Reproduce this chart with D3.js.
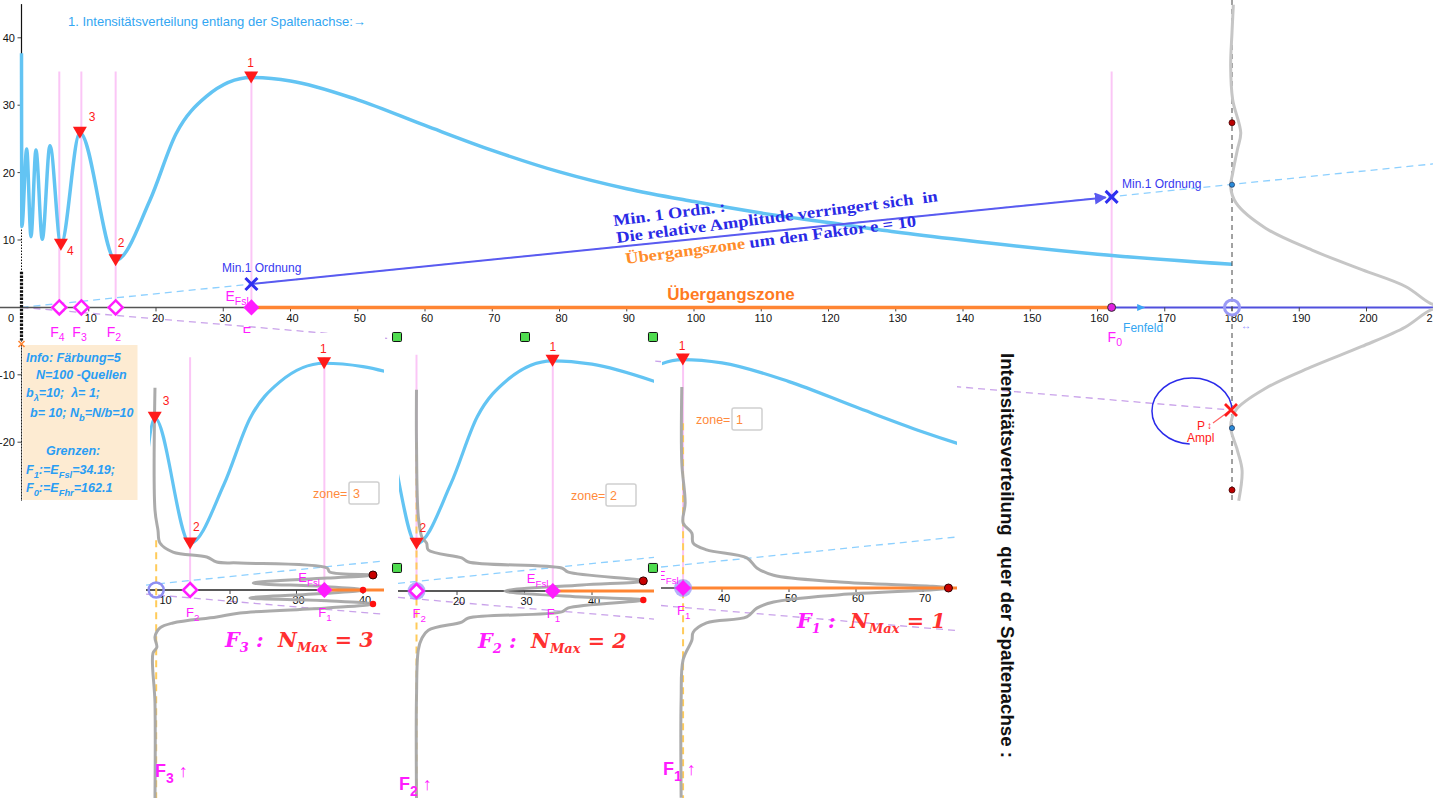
<!DOCTYPE html>
<html><head><meta charset="utf-8">
<script src="https://cdn.jsdelivr.net/npm/d3@7/dist/d3.min.js"></script>
<style>
html,body{margin:0;padding:0;background:#fff;overflow:hidden}
svg{display:block}
</style></head><body>
<svg id="chart" width="1433" height="798" font-family="'Liberation Sans',Arial,sans-serif"></svg>
<script>
// ---------------- data ----------------
// intensity along the slit axis (main curve)
const axialX=[0,0.05,0.77,1.41,2.15,3.09,4.23,5.86,8.68,14.0,19.1,23.0,27.5,34.15,40,50,60,70,80,90,100,110,120,130,140,160,180];
const axialY=[37.7,12,23.5,10.5,23.35,10.1,24.0,9.3,25.9,7.0,15.9,25.8,31.3,34.1,33.6,30.8,27.0,23.3,20.1,17.6,15.7,14.0,12.6,11.2,10.0,7.9,6.4];
// extrema markers
const extremaX=[34.15,14.0,8.68,5.86];
const extremaY=[34.1,7.0,25.9,9.3];
const extremaLabels=["1","2","3","4"];
// zone borders F4..F0
const fNames=["4","3","2","1","0"];
const fValues=[5.62,8.9,14.0,34.19,162.1];
// minima 1st order
const minOrderX=[34.19,162.1];
const minOrderY=[3.47,16.4];
const spreadSlope=0.1014;
const spreadEndX=210;
const pointP=[179.85,-15.22];
const screenX=180;
// transverse profile on the screen at x=180  [x, y]
const screenProfile=[[180.2,44.9],[180.0,40.8],[179.8,35.8],[180.1,30.8],[181.3,25.9],[180.8,23.4],[180.1,19.9],[179.8,17.9],[180.6,15.5],[185.0,11.75],[191.9,8.5],[199.3,5.6],[205.8,3.1],[209.5,0.6],[211.5,0],[209.5,-0.4],[205.8,-2.9],[199.3,-5.8],[191.9,-8.8],[185.0,-12.0],[180.6,-15.2],[179.8,-17.7],[180.8,-21.2],[181.5,-24.2],[181.0,-28.7]];
const screenDotsRed=[[180,27.4],[180,-27.1]];
const screenDotsBlue=[[180,18.2],[180,-17.9]];
// transverse profiles of the three zones [x, y] (zone coordinates)
const profileF3=[[8.72,30.4],[8.72,12.0],[9.17,9.0],[9.47,7.07],[11.43,5.71],[16.5,4.96],[18.0,4.2],[21.5,4.06],[34.6,3.3],[35.0,2.7],[41.5,2.26],[34.6,1.8],[23.5,1.05],[34.6,0.5],[40.0,0],[34.6,-0.5],[23.0,-1.2],[34.6,-1.6],[41.5,-2.1],[34.6,-2.7],[21.5,-3.46],[18.0,-4.06],[11.43,-4.96],[9.47,-5.71],[8.72,-7.07],[9.0,-8.6],[8.42,-9.5],[8.72,-17.0],[8.72,-31.3]];
const profileF2=[[14.0,29.8],[14.0,21.9],[14.27,11.0],[14.8,8.0],[15.5,7.1],[15.75,6.07],[20.7,4.9],[21.7,4.3],[35.5,3.4],[36.5,2.8],[47.6,1.5],[38.5,0.9],[27.1,0],[38.5,-0.9],[47.6,-1.33],[36.5,-2.5],[35.5,-3.1],[21.7,-4.0],[20.7,-4.6],[15.75,-5.8],[14.8,-7.0],[14.27,-8.7],[14.0,-15.7],[14.0,-30.7]];
const profileF1=[[34.0,30.0],[34.0,18.7],[34.5,12.7],[34.2,9.7],[35.5,8.2],[35.7,6.7],[37.7,5.7],[43.7,4.5],[45.2,3.0],[47.7,1.9],[57.6,0.9],[73.8,0],[57.6,-1.0],[47.7,-2.1],[45.2,-3.0],[43.7,-4.3],[37.7,-5.2],[35.7,-6.6],[35.5,-7.8],[34.2,-10.7],[33.9,-16.7],[33.9,-31.3]];
const peakDotsF3=[[41.5,2.26],[40.0,0],[41.5,-2.1]];
const peakDotsF2=[[47.6,1.5],[47.6,-1.33]];
const peakDotsF1=[[73.8,0]];
const zoneValues=["3","2","1"];
// tick labels
const xTicks=[10,20,30,40,50,60,70,80,90,100,110,120,130,140,150,160,170,180,190,200,210];
const yTicks=[40,30,20,10,-10,-20];
const ticksF3=[10,20,30,40];
const ticksF2=[20,30,40];
const ticksF1=[40,50,60,70];
// handle squares (main coordinates)
const handleX=[55.84,74.87,93.9,55.84,93.9];
const handleY=[-4.39,-4.39,-4.39,-38.66,-38.66];

// ---------------- colours ----------------
const C={blue:"#63c4f3",pink:"#fbc6f6",mag:"#ff1cff",red:"#ff1a1a",orange:"#ff8533",royal:"#2f2ff0",
 lineBlue:"#5a5af0",lightDash:"#8dd0ff",purpleDash:"#c9a2ea",gray:"#a6a6a6",grayLight:"#c6c6c6",txtBlue:"#33a6f2"};

const svg=d3.select("#chart");
const defs=svg.append("defs");
function clipRect(id,x,y,w,h){defs.append("clipPath").attr("id",id).append("rect").attr("x",x).attr("y",y).attr("width",w).attr("height",h);}
defs.append("marker").attr("id","arr").attr("viewBox","0 0 10 10").attr("refX",9).attr("refY",5)
 .attr("markerWidth",6).attr("markerHeight",6).attr("orient","auto")
 .append("path").attr("d","M0,0L10,5L0,10Z").attr("fill",C.lineBlue);

// ---------------- scales ----------------
const X=d3.scaleLinear().domain([0,200]).range([21.5,1366.5]);
const Y=d3.scaleLinear().domain([0,40]).range([307.4,37.8]);
const axial=axialX.map((x,i)=>[x,axialY[i]]);

function rich(sel,x,y,segs,size,color,extra){
  const t=sel.append("text").attr("x",x).attr("y",y).attr("font-size",size).attr("fill",color).style("white-space","pre");
  if(extra) extra(t);
  let sub=false;
  segs.forEach(([s,isSub,col])=>{
    const ts=t.append("tspan").text(s);
    if(col) ts.attr("fill",col);
    if(isSub){ts.attr("font-size",size*0.75); if(!sub) ts.attr("dy",size*0.32);}
    else if(sub){ts.attr("dy",-size*0.32);}
    sub=isSub;
  });
  return t;
}
const triPath="M-7,-6L7,-6L0,6Z";
const diaPath="M0,-7L7,0L0,7L-7,0Z";
const xPath="M-6,-6L6,6M-6,6L6,-6";

// ======================= MAIN VIEW =======================
const main=svg.append("g");
main.selectAll(".pl").data(fValues).join("line")
 .attr("x1",d=>X(d)).attr("x2",d=>X(d)).attr("y1",Y(35)).attr("y2",Y(0))
 .attr("stroke",C.pink).attr("stroke-width",2);
main.append("line").attr("x1",X(0)).attr("y1",Y(0)).attr("x2",X(spreadEndX)).attr("y2",Y(spreadEndX*spreadSlope))
 .attr("stroke",C.lightDash).attr("stroke-width",1.3).attr("stroke-dasharray","7,5");
main.append("line").attr("x1",X(0)).attr("y1",Y(0)).attr("x2",X(pointP[0])).attr("y2",Y(pointP[1]))
 .attr("stroke",C.purpleDash).attr("stroke-width",1.3).attr("stroke-dasharray","7,5");
main.append("line").attr("x1",X(-3.2)).attr("x2",X(fValues[3])).attr("y1",Y(0)).attr("y2",Y(0)).attr("stroke","#555").attr("stroke-width",1.5);
main.append("line").attr("x1",X(fValues[4])).attr("x2",X(211)).attr("y1",Y(0)).attr("y2",Y(0)).attr("stroke","#5050dd").attr("stroke-width",2);
main.selectAll(".xt").data(xTicks).join("line").attr("x1",d=>X(d)).attr("x2",d=>X(d)).attr("y1",Y(0)).attr("y2",Y(0)+4).attr("stroke","#444");
main.selectAll(".xl").data(xTicks).join("text").attr("x",d=>X(d)+2).attr("y",321.5).attr("text-anchor","middle")
 .attr("font-size",11).attr("fill","#111").text(d=>d);
main.append("text").attr("x",11).attr("y",321.5).attr("text-anchor","middle").attr("font-size",11).attr("fill","#111").text("0");
main.selectAll(".yt").data(yTicks).join("line").attr("x1",X(0)-4).attr("x2",X(0)).attr("y1",d=>Y(d)).attr("y2",d=>Y(d)).attr("stroke","#444");
main.selectAll(".yl").data(yTicks).join("text").attr("x",15).attr("y",d=>Y(d)+4).attr("text-anchor","end")
 .attr("font-size",11).attr("fill","#111").text(d=>d);
main.append("line").attr("x1",X(0)).attr("x2",X(0)).attr("y1",Y(45)).attr("y2",Y(12)).attr("stroke","#111").attr("stroke-width",1.2);
main.append("line").attr("x1",X(0)).attr("x2",X(0)).attr("y1",Y(12)).attr("y2",Y(5.3)).attr("stroke","#111").attr("stroke-width",1).attr("stroke-dasharray","1.5,1.5");
main.append("line").attr("x1",X(0)).attr("x2",X(0)).attr("y1",Y(5.3)).attr("y2",Y(-4.9)).attr("stroke","#111").attr("stroke-width",3.2).attr("stroke-dasharray","2.5,1.2");
main.append("line").attr("x1",X(0)).attr("x2",X(0)).attr("y1",Y(-4.9)).attr("y2",Y(-28.7)).attr("stroke","#222").attr("stroke-width",1).attr("stroke-dasharray","1.2,1.8");
const lineAx=d3.line().x(d=>X(d[0])).y(d=>Y(d[1])).curve(d3.curveMonotoneX);
main.append("path").attr("d",lineAx(axial)).attr("fill","none").attr("stroke",C.blue).attr("stroke-width",3.5);
main.append("line").attr("x1",X(fValues[3])).attr("x2",X(fValues[4])).attr("y1",Y(0)).attr("y2",Y(0)).attr("stroke",C.orange).attr("stroke-width",3.5);
main.append("line").attr("x1",X(screenX)).attr("x2",X(screenX)).attr("y1",0).attr("y2",Y(-28.7))
 .attr("stroke","#444").attr("stroke-width",1).attr("stroke-dasharray","5,4");
const lineProf=d3.line().x(d=>X(d[0])).y(d=>Y(d[1])).curve(d3.curveCatmullRom.alpha(0.5));
main.append("path").attr("d",lineProf(screenProfile)).attr("fill","none").attr("stroke",C.grayLight).attr("stroke-width",3);
main.selectAll(".sdr").data(screenDotsRed).join("circle").attr("cx",d=>X(d[0])).attr("cy",d=>Y(d[1])).attr("r",3).attr("fill","#b00").attr("stroke","#400").attr("stroke-width",0.8);
main.selectAll(".sdb").data(screenDotsBlue).join("circle").attr("cx",d=>X(d[0])).attr("cy",d=>Y(d[1])).attr("r",2.6).attr("fill","#2a8ad8").attr("stroke","#124").attr("stroke-width",0.6);
main.append("circle").attr("cx",X(screenX)).attr("cy",Y(0)).attr("r",7.5).attr("fill","none").attr("stroke","#9a9af5").attr("stroke-width",3);
main.append("text").attr("x",X(screenX)+9).attr("y",Y(0)+22).attr("font-size",10).attr("fill","#8c8cff").text("↔");
main.append("path").attr("d","M-4,-3.5L4,0L-4,3.5Z").attr("transform",`translate(${X(166.5)},${Y(0)})`).attr("fill","#3aa6f5");
main.append("line").attr("x1",X(minOrderX[0])).attr("y1",Y(minOrderY[0])).attr("x2",X(minOrderX[1])-6).attr("y2",Y(minOrderY[1])+0.6)
 .attr("stroke",C.lineBlue).attr("stroke-width",2).attr("marker-end","url(#arr)");
main.selectAll(".mx").data(minOrderX).join("path").attr("d",xPath)
 .attr("transform",(d,i)=>`translate(${X(d)},${Y(minOrderY[i])})`).attr("stroke",C.royal).attr("stroke-width",3).attr("fill","none");
main.selectAll(".tri").data(extremaX).join("path").attr("d",triPath)
 .attr("transform",(d,i)=>`translate(${X(d)},${Y(extremaY[i])})`).attr("fill",C.red);
const triOff=[[-4,-11],[2,-13],[9,-12],[6,10]];
main.selectAll(".trl").data(extremaX).join("text").attr("x",(d,i)=>X(d)+triOff[i][0]).attr("y",(d,i)=>Y(extremaY[i])+triOff[i][1])
 .attr("font-size",12).attr("fill",C.red).text((d,i)=>extremaLabels[i]);
main.selectAll(".dh").data(fValues.slice(0,3)).join("path").attr("d",diaPath)
 .attr("transform",d=>`translate(${X(d)},${Y(0)})`).attr("fill","#fff").attr("stroke",C.mag).attr("stroke-width",2.5);
main.append("path").attr("d",diaPath).attr("transform",`translate(${X(fValues[3])},${Y(0)})`).attr("fill",C.mag).attr("stroke",C.mag).attr("stroke-width",1.5);
main.append("circle").attr("cx",X(fValues[4])).attr("cy",Y(0)).attr("r",4).attr("fill","#e020e0").attr("stroke","#333").attr("stroke-width",1);
fValues.forEach((f,i)=>{ if(i===4) return;
  rich(main,X(f)-9,337,[["F",false],[fNames[i],true]],14,C.mag);
});
rich(main,X(fValues[4])-4,342,[["F",false],["0",true]],14,C.mag);
rich(main,X(fValues[3])-26,301,[["E",false],["Fsl",true]],14,C.mag);
main.append("text").attr("x",X(163.8)).attr("y",332).attr("font-size",12).attr("fill",C.txtBlue).text("Fenfeld");
main.append("text").attr("x",222).attr("y",272).attr("font-size",12).attr("fill","#3838f0").text("Min.1 Ordnung");
main.append("text").attr("x",1122).attr("y",188).attr("font-size",12).attr("fill","#3838f0").text("Min.1 Ordnung");
main.append("text").attr("x",68).attr("y",26).attr("font-size",13).attr("fill",C.txtBlue).text("1. Intensitätsverteilung entlang der Spaltenachse:→");
main.append("text").attr("x",731).attr("y",300).attr("text-anchor","middle").attr("font-size",17).attr("font-weight","bold").attr("fill","#ff7a22").text("Übergangszone");
// rotated explanation
const serif="'Liberation Serif','Times New Roman',serif";
const rt=(x,y,len)=>main.append("text").attr("transform",`translate(${x},${y}) rotate(-7.4)`).attr("font-family",serif)
  .attr("font-size",16).attr("font-weight","bold").attr("fill","#2a2ae6").attr("textLength",len).attr("lengthAdjust","spacingAndGlyphs").style("white-space","pre");
rt(614,226,113).text("Min. 1 Ordn. :");
rt(617,243,324).text("Die relative Amplitude verringert sich  in");
const l3=rt(626,264,293);
l3.append("tspan").attr("fill","#ff8c2a").text("Übergangszone");
l3.append("tspan").text(" um den Faktor e = 10");
// phasor circle and P
const eC=[174.05,-15.37];
main.append("ellipse").attr("cx",X(eC[0])).attr("cy",Y(eC[1])).attr("rx",X(eC[0]+5.95)-X(eC[0])).attr("ry",Y(eC[1])-Y(eC[1]+4.9))
 .attr("fill","none").attr("stroke","#2b2bea").attr("stroke-width",1.5).attr("pathLength",100).attr("stroke-dasharray","0,26,74,0");
main.append("line").attr("x1",X(pointP[0])-18).attr("y1",Y(pointP[1])+13).attr("x2",X(pointP[0])-3).attr("y2",Y(pointP[1])+2)
 .attr("stroke","#ff6060").attr("stroke-width",1.2);
main.append("path").attr("d",xPath).attr("transform",`translate(${X(pointP[0])},${Y(pointP[1])})`).attr("stroke",C.red).attr("stroke-width",2.8).attr("fill","none");
main.append("text").attr("x",1197).attr("y",430).attr("font-size",12).attr("fill",C.red).text("P");
main.append("text").attr("x",1207).attr("y",429).attr("font-size",10).attr("fill",C.red).text("↕");
main.append("text").attr("x",1187).attr("y",442).attr("font-size",12).attr("fill",C.red).text("Ampl");

// ======================= ZONE PANELS =======================
const panels=[
 {id:"p3",box:[145,333,240,465],clip:[146,340,238,458],curveLeft:150,ox:97,oy:590,s:6.65,F:fValues[1],pinks:[fValues[2],fValues[3]],tris:[0,1,2],
  triOff:[[-4,-10],[3,-12],[8,-13]],profile:profileF3,dots:peakDotsF3,ticks:ticksF3,zone:zoneValues[0],zonePos:[313,498,349],yellowTop:7.5,
  circ:"hollow",nmax:[225,647,"3"],fLab:[155,777,"3"],f2Lab:true},
 {id:"p2",box:[397,337,257,461],clip:[398,340,256,458],curveLeft:399,ox:322,oy:591,s:6.75,F:fValues[2],pinks:[fValues[2],fValues[3]],tris:[0,1],
  triOff:[[-3,-10],[3,-12]],profile:profileF2,dots:peakDotsF2,ticks:ticksF2,zone:zoneValues[1],zonePos:[571,500,606],yellowTop:22,
  circ:"fillHollow",nmax:[478,648,"2"],fLab:[399,790,"2"],f2Lab:true},
 {id:"p1",box:[661,340,296,458],clip:[661,340,296,458],curveLeft:662,ox:454,oy:588,s:6.7,F:fValues[3],pinks:[fValues[3]],tris:[0],
  triOff:[[-4,-10]],profile:profileF1,dots:peakDotsF1,ticks:ticksF1,zone:zoneValues[2],zonePos:[696,424,732],yellowTop:24.6,
  circ:"fillFilled",nmax:[797,628,"1"],fLab:[663,775,"1"],f2Lab:false}
];
panels.forEach(p=>{
  svg.append("rect").attr("x",p.box[0]).attr("y",p.box[1]).attr("width",p.box[2]).attr("height",p.box[3]).attr("fill","#fff");
  clipRect(p.id,...p.clip);
  clipRect(p.id+"c",p.curveLeft,p.clip[1],p.clip[0]+p.clip[2]-p.curveLeft,p.clip[3]);
  const g=svg.append("g").attr("clip-path",`url(#${p.id})`);
  const px=d3.scaleLinear().domain([0,40]).range([p.ox,p.ox+40*p.s]);
  const py=d3.scaleLinear().domain([0,40]).range([p.oy,p.oy-40*p.s]);
  const xl=px.invert(p.clip[0]), xr=px.invert(p.clip[0]+p.clip[2]);
  g.selectAll(".pp").data(p.pinks).join("line").attr("x1",d=>px(d)).attr("x2",d=>px(d)).attr("y1",py(35)).attr("y2",py(0))
    .attr("stroke",C.pink).attr("stroke-width",2);
  g.append("line").attr("x1",px(xl)).attr("y1",py(xl*spreadSlope)).attr("x2",px(xr)).attr("y2",py(xr*spreadSlope))
    .attr("stroke",C.lightDash).attr("stroke-width",1.3).attr("stroke-dasharray","7,5");
  const ps=pointP[1]/pointP[0];
  g.append("line").attr("x1",px(xl)).attr("y1",py(xl*ps)).attr("x2",px(xr)).attr("y2",py(xr*ps))
    .attr("stroke",C.purpleDash).attr("stroke-width",1.3).attr("stroke-dasharray","7,5");
  g.append("line").attr("x1",px(xl)).attr("x2",px(fValues[3])).attr("y1",py(0)).attr("y2",py(0)).attr("stroke","#222").attr("stroke-width",1.3);
  g.selectAll(".pt").data(p.ticks).join("line").attr("x1",d=>px(d)).attr("x2",d=>px(d)).attr("y1",py(0)).attr("y2",py(0)+4).attr("stroke","#444");
  g.selectAll(".ptl").data(p.ticks).join("text").attr("x",d=>px(d)+2).attr("y",py(0)+14).attr("text-anchor","middle")
    .attr("font-size",11).attr("fill","#111").text(d=>d);
  g.append("line").attr("x1",px(p.F)).attr("x2",px(p.F)).attr("y1",py(p.yellowTop)).attr("y2",py(-32))
    .attr("stroke","#ffcb5a").attr("stroke-width",2).attr("stroke-dasharray","7,5");
  const lp=d3.line().x(d=>px(d[0])).y(d=>py(d[1])).curve(d3.curveMonotoneX);
  svg.append("path").attr("clip-path",`url(#${p.id}c)`).attr("d",lp(axial)).attr("fill","none").attr("stroke",C.blue).attr("stroke-width",3.2);
  const g2=svg.append("g").attr("clip-path",`url(#${p.id})`);
  const lpp=d3.line().x(d=>px(d[0])).y(d=>py(d[1])).curve(d3.curveCatmullRom.alpha(0.5));
  g2.append("path").attr("d",lpp(p.profile)).attr("fill","none").attr("stroke",C.gray).attr("stroke-width",3).attr("stroke-opacity",0.95);
  g2.append("line").attr("x1",px(fValues[3])).attr("x2",px(xr)).attr("y1",py(0)).attr("y2",py(0)).attr("stroke",C.orange).attr("stroke-width",3);
  g2.selectAll(".pd").data(p.dots).join("circle").attr("cx",d=>px(d[0])).attr("cy",d=>py(d[1])).attr("r",(d,i)=>i===0?4:3.2)
    .attr("fill",(d,i)=>i===0?"#c80000":"#ff1010").attr("stroke",(d,i)=>i===0?"#300":"none").attr("stroke-width",1);
  p.tris.forEach((ti,k)=>{
    g2.append("path").attr("d",triPath).attr("transform",`translate(${px(extremaX[ti])},${py(extremaY[ti])})`).attr("fill",C.red);
    g2.append("text").attr("x",px(extremaX[ti])+p.triOff[k][0]).attr("y",py(extremaY[ti])+p.triOff[k][1]).attr("font-size",12).attr("fill",C.red).text(extremaLabels[ti]);
  });
  if(p.circ==="hollow"){
    g2.append("circle").attr("cx",px(p.F)).attr("cy",py(0)).attr("r",7.5).attr("fill","none").attr("stroke","#8f8ff2").attr("stroke-width",2.5);
  } else {
    g2.append("circle").attr("cx",px(p.F)).attr("cy",py(0)).attr("r",9).attr("fill","#9a9af8").attr("fill-opacity",0.75);
  }
  if(p.f2Lab){
    g2.append("path").attr("d",diaPath).attr("transform",`translate(${px(fValues[2])},${py(0)})`).attr("fill","#fff").attr("stroke",C.mag).attr("stroke-width",2.5);
    rich(g2,px(fValues[2])-4,py(0)+27,[["F",false],["2",true]],13,C.mag);
  }
  g2.append("path").attr("d",diaPath).attr("transform",`translate(${px(fValues[3])},${py(0)})`).attr("fill",C.mag).attr("stroke",C.mag).attr("stroke-width",1.5);
  rich(g2,px(fValues[3])-26,py(0)-8,[["E",false],["Fsl",true]],13,C.mag);
  rich(g2,px(fValues[3])-6,py(0)+27,[["F",false],["1",true]],13,C.mag);
  g2.append("text").attr("x",p.zonePos[0]).attr("y",p.zonePos[1]).attr("font-size",12.5).attr("fill","#ff8a3c").text("zone=");
  g2.append("rect").attr("x",p.zonePos[2]).attr("y",p.zonePos[1]-16).attr("width",30).attr("height",22).attr("rx",2)
    .attr("fill","#fff").attr("stroke","#d0d0d0").attr("stroke-width",1.5);
  g2.append("text").attr("x",p.zonePos[2]+4).attr("y",p.zonePos[1]).attr("font-size",12.5).attr("fill","#ff8a3c").text(p.zone);
  const dser="'DejaVu Serif',serif";
  const t1=svg.append("text").attr("x",p.nmax[0]).attr("y",p.nmax[1]).attr("font-family",dser).attr("font-style","italic").attr("font-weight","bold").attr("font-size",20.7).style("white-space","pre");
  t1.append("tspan").attr("fill",C.mag).text("F");
  t1.append("tspan").attr("fill",C.mag).attr("font-size",13).attr("dy",5).text(p.nmax[2]);
  t1.append("tspan").attr("fill",C.mag).attr("dy",-5).text(" :  ");
  t1.append("tspan").attr("fill","#ff3030").text("N");
  t1.append("tspan").attr("fill","#ff3030").attr("font-size",13).attr("dy",5).text("Max");
  t1.append("tspan").attr("fill","#ff3030").attr("dy",-5).text(" = "+p.nmax[2]);
  const t2=svg.append("text").attr("x",p.fLab[0]).attr("y",p.fLab[1]).attr("font-size",18).attr("font-weight","bold").attr("fill",C.mag).style("white-space","pre");
  t2.append("tspan").text("F");
  t2.append("tspan").attr("font-size",14).attr("dy",6).text(p.fLab[2]);
  t2.append("tspan").attr("dy",-6).text(" ↑");
});

svg.selectAll(".hs").data(handleX).join("rect").attr("x",d=>X(d)-4.5).attr("y",(d,i)=>Y(handleY[i])-4.5).attr("width",9).attr("height",9)
 .attr("rx",1).attr("fill","#4fdc4f").attr("stroke","#111").attr("stroke-width",1);

// ======================= INFO BOX =======================
svg.append("rect").attr("x",X(0)+1).attr("y",345).attr("width",115).attr("height",155).attr("fill","#fdebd2");
main.append("line").attr("x1",X(0)).attr("x2",X(0)).attr("y1",345).attr("y2",500).attr("stroke","#222").attr("stroke-width",1).attr("stroke-dasharray","1.2,1.8");
svg.append("path").attr("d","M-3,-3L3,3M-3,3L3,-3").attr("transform",`translate(${X(0)},344)`).attr("stroke",C.orange).attr("stroke-width",1.6);
const info=svg.append("g").attr("font-weight","bold").attr("font-style","italic");
const ib=(x,y,segs)=>rich(info,x,y,segs,12.5,"#2a9df4");
ib(26,362,[["Info: Färbung=5",false]]);
ib(36,379,[["N=100 -Quellen",false]]);
ib(26,397,[["b",false],["λ",true],["=10;  λ= 1;",false]]);
ib(30,417,[["b= 10; N",false],["b",true],["=N/b=10",false]]);
ib(46,455,[["Grenzen:",false]]);
ib(26,474,[["F",false],["1",true],[":=E",false],["Fsl",true],["=34.19;",false]]);
ib(26,492,[["F",false],["0",true],[":=E",false],["Fhr",true],["=162.1",false]]);

// ======================= VERTICAL TITLE =======================
svg.append("text").attr("transform","translate(1001,353) rotate(90)").attr("font-size",18.7).attr("font-weight","bold").attr("fill","#111").style("white-space","pre")
 .text("Intensitätsverteilung  quer der Spaltenachse :");
</script>
</body></html>
